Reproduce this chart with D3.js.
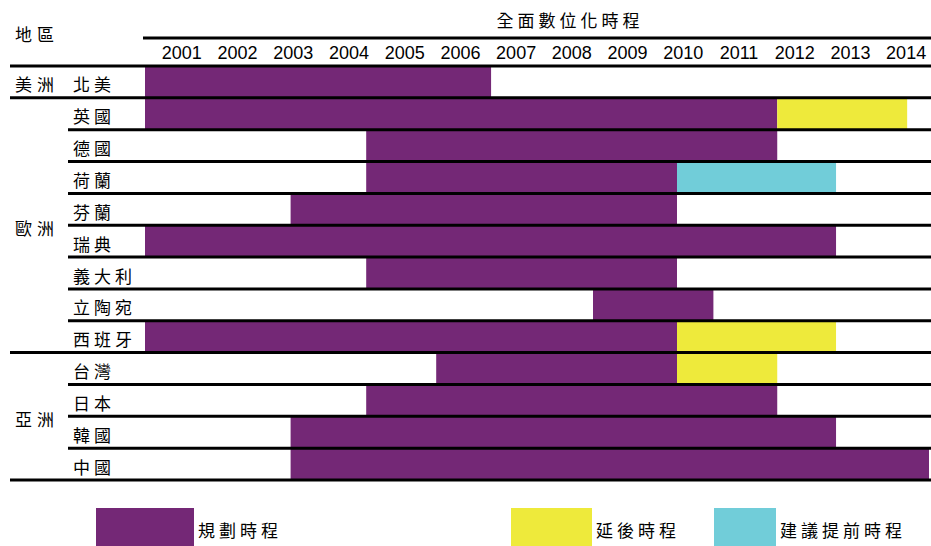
<!DOCTYPE html>
<html>
<head>
<meta charset="utf-8">
<script src="https://cdn.jsdelivr.net/npm/d3@7"></script>
<style>
  body { margin: 0; background: #fff; }
  svg { display: block; }
</style>
</head>
<body>
<div id="chart"></div>
<script>
(function() {
  // data
  var years = [2001, 2002, 2003, 2004, 2005, 2006, 2007, 2008, 2009, 2010, 2011, 2012, 2013, 2014];
  var countries = ['北美', '英國', '德國', '荷蘭', '芬蘭', '瑞典', '義大利', '立陶宛', '西班牙', '台灣', '日本', '韓國', '中國'];
  var regionOf = ['美洲', '歐洲', '歐洲', '歐洲', '歐洲', '歐洲', '歐洲', '歐洲', '歐洲', '亞洲', '亞洲', '亞洲', '亞洲'];
  // planned schedule (fractional years)
  var planStart = [2001, 2001, 2004.95, 2004.95, 2003.6, 2001, 2004.95, 2009, 2001, 2006.2, 2004.95, 2003.6, 2003.6];
  var planEnd = [2007.18, 2012.29, 2012.29, 2010.5, 2010.5, 2013.34, 2010.5, 2011.15, 2010.5, 2010.5, 2012.29, 2013.34, 2015];
  // delayed to (yellow) / proposed earlier switch-off (blue)
  var delayEnd = [null, 2014.61, null, null, null, null, null, null, 2013.34, 2012.29, null, null, null];
  var earlyEnd = [null, null, null, 2013.34, null, null, null, null, null, null, null, null, null];
  var legendLabels = ['規劃時程', '延後時程', '建議提前時程'];

  var colors = { plan: '#742876', delay: '#eeea3b', early: '#71cdd9' };
  var cjk = '"Noto Sans CJK TC", "Noto Sans CJK SC", sans-serif';

  var W = 931, H = 546;
  var svg = d3.select('#chart').append('svg')
    .attr('width', W).attr('height', H);

  var x = d3.scaleLinear().domain([2001, 2015]).range([145, 929]);
  var y = d3.scaleBand().domain(countries).range([66, 480]);
  var yearPos = d3.scaleBand().domain(years).range([154, 934]);

  // segments
  var segs = [];
  countries.forEach(function(c, i) {
    segs.push({ c: c, a: planStart[i], b: planEnd[i], k: 'plan' });
    if (delayEnd[i] != null) segs.push({ c: c, a: planEnd[i], b: delayEnd[i], k: 'delay' });
    if (earlyEnd[i] != null) segs.push({ c: c, a: planEnd[i], b: earlyEnd[i], k: 'early' });
  });

  svg.append('g').selectAll('rect')
    .data(segs)
    .join('rect')
    .attr('x', function(d) { return x(d.a); })
    .attr('width', function(d) { return x(d.b) - x(d.a); })
    .attr('y', function(d) { return y(d.c); })
    .attr('height', y.bandwidth())
    .attr('fill', function(d) { return colors[d.k]; });

  // header
  svg.append('text')
    .attr('x', 15).attr('y', 33)
    .attr('dominant-baseline', 'central')
    .attr('font-family', cjk).attr('font-size', 17)
    .attr('letter-spacing', 5)
    .text('地區');

  svg.append('text')
    .attr('x', 570).attr('y', 19)
    .attr('text-anchor', 'middle')
    .attr('dominant-baseline', 'central')
    .attr('font-family', cjk).attr('font-size', 17)
    .attr('letter-spacing', 4)
    .text('全面數位化時程');

  svg.append('g').selectAll('text')
    .data(years)
    .join('text')
    .attr('x', function(d) { return yearPos(d) + yearPos.bandwidth() / 2; })
    .attr('y', 53)
    .attr('text-anchor', 'middle')
    .attr('dominant-baseline', 'central')
    .attr('font-family', 'Liberation Sans, Arial, sans-serif')
    .attr('font-size', 18)
    .text(function(d) { return d; });

  // row lines
  var lines = svg.append('g').attr('stroke', '#000').attr('stroke-width', 3);
  lines.append('line')
    .attr('x1', 143).attr('x2', W).attr('y1', 38).attr('y2', 38);

  var bounds = countries.map(function(c, i) {
    var major = i == 0 || regionOf[i] != regionOf[i - 1];
    return { y: y(c), major: major };
  });
  bounds.push({ y: y.range()[1], major: true });
  lines.selectAll('line.row')
    .data(bounds)
    .join('line')
    .attr('class', 'row')
    .attr('x1', function(d) { return d.major ? 10 : 68; })
    .attr('x2', W)
    .attr('y1', function(d) { return d.y; })
    .attr('y2', function(d) { return d.y; });

  // country labels
  svg.append('g').selectAll('text')
    .data(countries)
    .join('text')
    .attr('x', 73)
    .attr('y', function(d) { return y(d) + y.bandwidth() / 2 + 2; })
    .attr('dominant-baseline', 'central')
    .attr('font-family', cjk).attr('font-size', 17)
    .attr('letter-spacing', 4)
    .text(function(d) { return d; });

  // region labels
  var regions = d3.groups(countries.map(function(c, i) { return { c: c, r: regionOf[i] }; }),
    function(d) { return d.r; });
  svg.append('g').selectAll('text')
    .data(regions)
    .join('text')
    .attr('x', 15)
    .attr('y', function(g) {
      var first = g[1][0].c, last = g[1][g[1].length - 1].c;
      return (y(first) + y(last) + y.bandwidth()) / 2 + 2;
    })
    .attr('dominant-baseline', 'central')
    .attr('font-family', cjk).attr('font-size', 17)
    .attr('letter-spacing', 5)
    .text(function(g) { return g[0]; });

  // legend
  var legend = [
    { label: legendLabels[0], color: colors.plan, x: 96, w: 98 },
    { label: legendLabels[1], color: colors.delay, x: 511, w: 81 },
    { label: legendLabels[2], color: colors.early, x: 714, w: 62 }
  ];
  var lg = svg.append('g').selectAll('g')
    .data(legend)
    .join('g')
    .attr('transform', function(d) { return 'translate(' + d.x + ',508)'; });
  lg.append('rect')
    .attr('width', function(d) { return d.w; })
    .attr('height', 38)
    .attr('fill', function(d) { return d.color; });
  lg.append('text')
    .attr('x', function(d) { return d.w + 4; })
    .attr('y', 21)
    .attr('dominant-baseline', 'central')
    .attr('font-family', cjk).attr('font-size', 17)
    .attr('letter-spacing', 4)
    .text(function(d) { return d.label; });
})();
</script>
</body>
</html>
